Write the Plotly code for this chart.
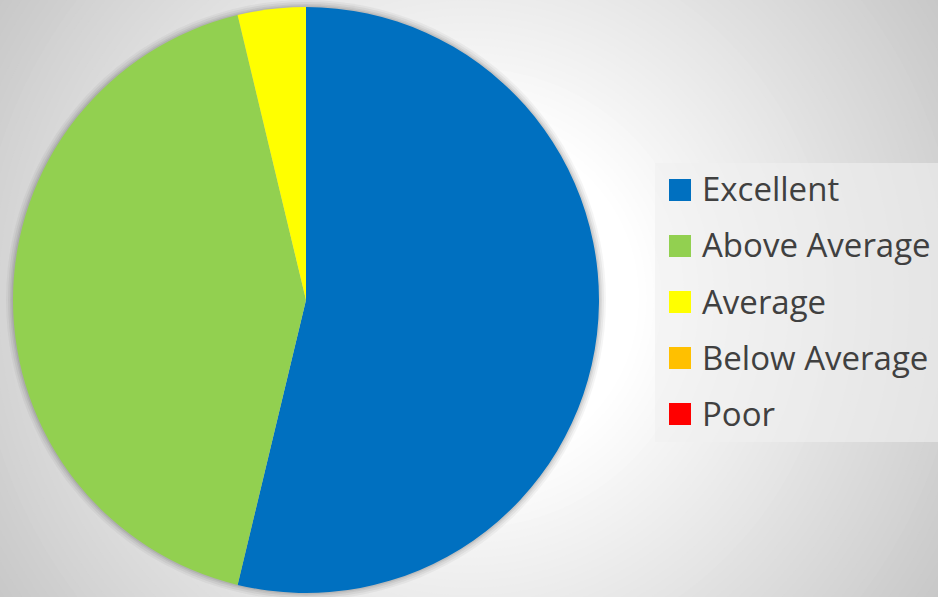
import plotly.graph_objects as go

# ---- data ----
categories = ["Excellent", "Above Average", "Average", "Below Average", "Poor"]
values = [43, 34, 3, 0, 0]
colors = ["#0070C0", "#92D050", "#FFFF00", "#FFC000", "#FF0000"]

W, H = 938, 597

def px(x):
    return x / W

def py(y):
    return 1 - y / H

shapes = []

# radial background gradient (concentric circles, largest first)
cx, cy = 469, 298
r_in, r_out = 170, 620
steps = 60
for i in range(steps + 1):
    r = r_out - (r_out - r_in) * i / steps
    g = 255 - 55 * (r - r_in) / (560 - r_in)
    g = int(round(max(196, min(255, g))))
    shapes.append(dict(type="circle", xref="paper", yref="paper",
                       x0=px(cx - r), x1=px(cx + r), y0=py(cy + r), y1=py(cy - r),
                       fillcolor=f"rgb({g},{g},{g})", line_width=0, layer="below"))

# pie soft shadow
pcx, pcy, pr = 306, 300, 293
for d, a in [(7, 0.04), (5, 0.05), (3, 0.06), (1.5, 0.07)]:
    r = pr + d
    shapes.append(dict(type="circle", xref="paper", yref="paper",
                       x0=px(pcx - r), x1=px(pcx + r), y0=py(pcy + r), y1=py(pcy - r),
                       fillcolor=f"rgba(0,0,0,{a})", line_width=0, layer="below"))

# legend box
shapes.append(dict(type="rect", xref="paper", yref="paper",
                   x0=px(655), x1=px(940), y0=py(442), y1=py(163),
                   fillcolor="rgba(240,240,240,0.6)", line_width=0, layer="below"))

annotations = []
row0, step = 190, 56
for i, (cat, col) in enumerate(zip(categories, colors)):
    yc = row0 + i * step
    shapes.append(dict(type="rect", xref="paper", yref="paper",
                       x0=px(669), x1=px(691), y0=py(yc + 11), y1=py(yc - 11),
                       fillcolor=col, line_width=0, layer="above"))
    annotations.append(dict(x=px(700), y=py(yc - 1), xref="paper", yref="paper",
                            text=cat, showarrow=False, xanchor="left", yanchor="middle",
                            font=dict(family="Open Sans", size=33, color="#404040")))

fig = go.Figure(go.Pie(
    labels=categories, values=values,
    marker=dict(colors=colors, line=dict(width=0)),
    sort=False, direction="clockwise", rotation=0,
    textinfo="none", hoverinfo="label+value+percent",
    domain=dict(x=[px(pcx - pr), px(pcx + pr)], y=[py(pcy + pr), py(pcy - pr)]),
    showlegend=False,
))

fig.update_layout(
    width=W, height=H,
    margin=dict(l=0, r=0, t=0, b=0),
    paper_bgcolor="#c8c8c8",
    plot_bgcolor="rgba(0,0,0,0)",
    shapes=shapes,
    annotations=annotations,
    showlegend=False,
)

fig.write_html("out.html", config={"displayModeBar": False},
               post_script="document.body.style.margin='0';document.body.style.overflow='hidden';")
